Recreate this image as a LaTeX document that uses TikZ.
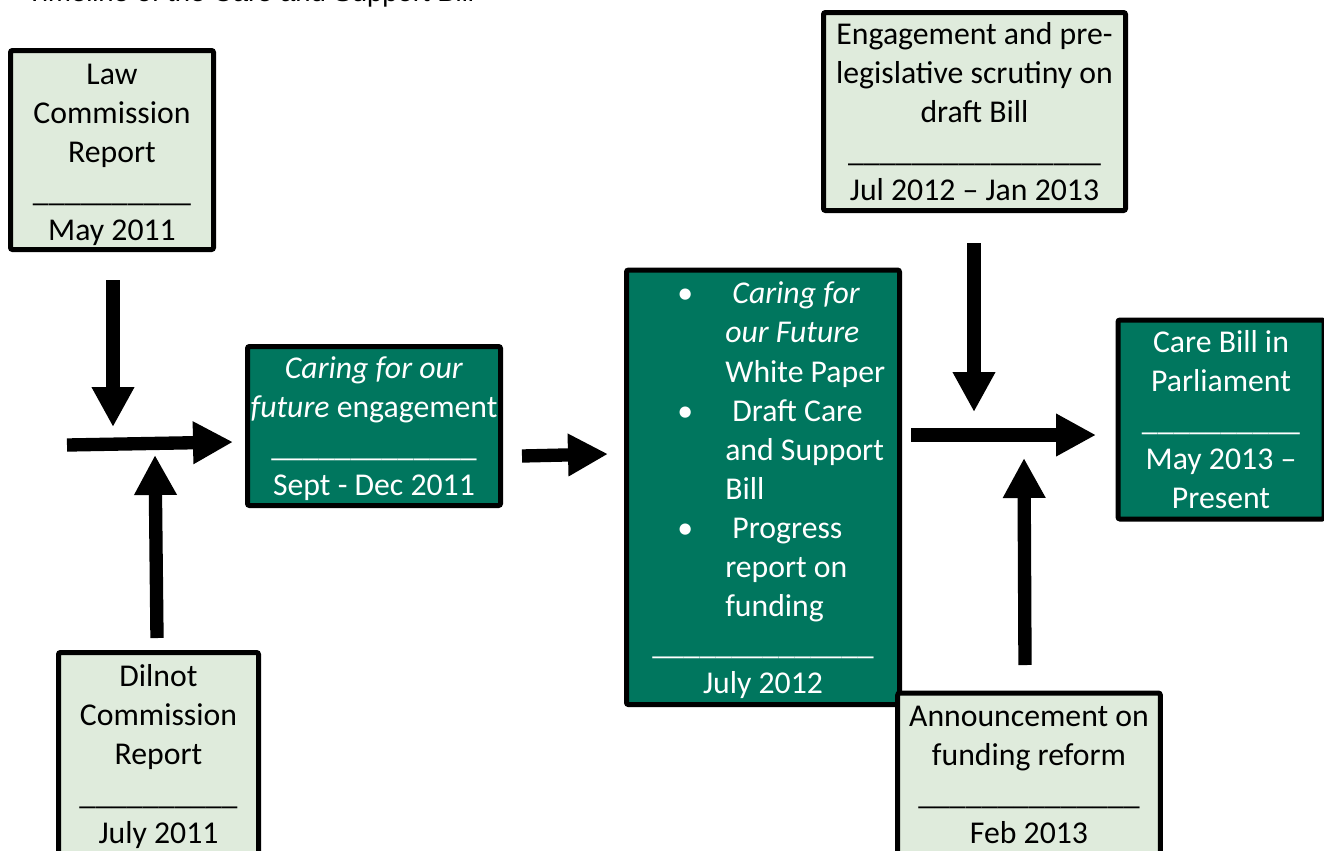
\documentclass[tikz,border=0pt]{standalone}
\usepackage{fontspec}
\setmainfont{Carlito}
\newfontfamily\titlefont{Liberation Sans}
\usetikzlibrary{arrows.meta}
\definecolor{lightg}{HTML}{DFEBDC}
\definecolor{darkg}{HTML}{00765E}
% first line with extra height: pushes the whole text block down by half of #1
\newcommand\firstln[2]{\raisebox{0pt}[\dimexpr\height+#1\relax][\depth]{#2}}
\tikzset{
  box/.style={draw=black, line width=3.75pt, rounded corners=1.5pt, align=center,
    inner sep=0pt, font=\fontsize{23.8}{29.3}\selectfont},
  lightbox/.style={box, fill=lightg, text=black},
  darkbox/.style={box, fill=darkg, text=white},
  boxtext/.style={inner sep=0pt, text=white, font=\fontsize{23.8}{29.3}\selectfont},
  bigarrow/.style={line width=10pt, -{Triangle[width=30pt,length=30pt]}}
}
\begin{document}
\begin{tikzpicture}[x=0.75pt, y=-0.75pt]
\useasboundingbox (0,0) rectangle (1324,850);
% title (cut off at top)
\node[anchor=base west, inner sep=0pt, font=\titlefont\fontsize{20.6}{24}\selectfont] (title) at (26,1) {Timeline of the Care and Support Bill};
% boxes
\node[lightbox, minimum width=152.25pt, minimum height=149.25pt] (law) at (112,150)
  {\firstln{7.5pt}{Law}\\Commission\\Report\\\_\_\_\_\_\_\_\_\_\_\\May 2011};
\node[lightbox, minimum width=150pt, minimum height=151.5pt] (dilnot) at (158.5,753.5)
  {\firstln{4.5pt}{Dilnot}\\Commission\\Report\\\_\_\_\_\_\_\_\_\_\_\\July 2011};
\node[darkbox, minimum width=189.75pt, minimum height=119.25pt] (caring) at (374,426)
  {\firstln{4.5pt}{\textit{Caring for our}}\\\textit{future} engagement\\\_\_\_\_\_\_\_\_\_\_\_\_\_\\Sept - Dec 2011};
\node[darkbox, minimum width=204.75pt, minimum height=325.9pt] (white) at (763,487.3) {};
\node[boxtext, anchor=west, align=left] (wplist) at (677,452)
  {\makebox[36pt][l]{•}\ \textit{Caring for}\\
   \hspace*{36pt}\textit{our Future}\\
   \hspace*{36pt}White Paper\\
   \makebox[36pt][l]{•}\ Draft Care\\
   \hspace*{36pt}and Support\\
   \hspace*{36pt}Bill\\
   \makebox[36pt][l]{•}\ Progress\\
   \hspace*{36pt}report on\\
   \hspace*{36pt}funding};
\node[boxtext, anchor=south, align=center] (wpdate) at (763,698.7)
  {\_\_\_\_\_\_\_\_\_\_\_\_\_\_\\July 2012};
\node[lightbox, minimum width=226.5pt, minimum height=148.5pt] (engage) at (974.5,111.5)
  {Engagement and pre-\\legislative scrutiny on\\draft Bill\\\_\_\_\_\_\_\_\_\_\_\_\_\_\_\_\_\\Jul 2012 – Jan 2013};
\node[darkbox, minimum width=154.5pt, minimum height=149.25pt] (carebill) at (1221,419.5)
  {Care Bill in\\Parliament\\\_\_\_\_\_\_\_\_\_\_\\May 2013 –\\Present};
\node[lightbox, minimum width=196.9pt, minimum height=121.5pt] (announce) at (1029,774)
  {\firstln{1.5pt}{Announcement on}\\funding reform\\\_\_\_\_\_\_\_\_\_\_\_\_\_\_\\Feb 2013};
% arrow end points
\coordinate (lawOut) at (113,280);
\coordinate (lawIn) at (113,427);
\coordinate (join1Start) at (67,445);
\coordinate (join1End) at (233,442);
\coordinate (dilnotOut) at (157,638);
\coordinate (dilnotIn) at (155,455);
\coordinate (caringOut) at (522,456);
\coordinate (whiteIn) at (608,454);
\coordinate (join2Start) at (911,435);
\coordinate (join2End) at (1096,435);
\coordinate (engageOut) at (974,243);
\coordinate (engageIn) at (974,412);
\coordinate (announceOut) at (1025,665);
\coordinate (announceIn) at (1024,458);
% arrows
\draw[bigarrow] (lawOut) -- (lawIn);
\draw[bigarrow] (join1Start) -- (join1End);
\draw[bigarrow] (dilnotOut) -- (dilnotIn);
\draw[bigarrow] (caringOut) -- (whiteIn);
\draw[bigarrow] (join2Start) -- (join2End);
\draw[bigarrow] (engageOut) -- (engageIn);
\draw[bigarrow] (announceOut) -- (announceIn);
\end{tikzpicture}
\end{document}
